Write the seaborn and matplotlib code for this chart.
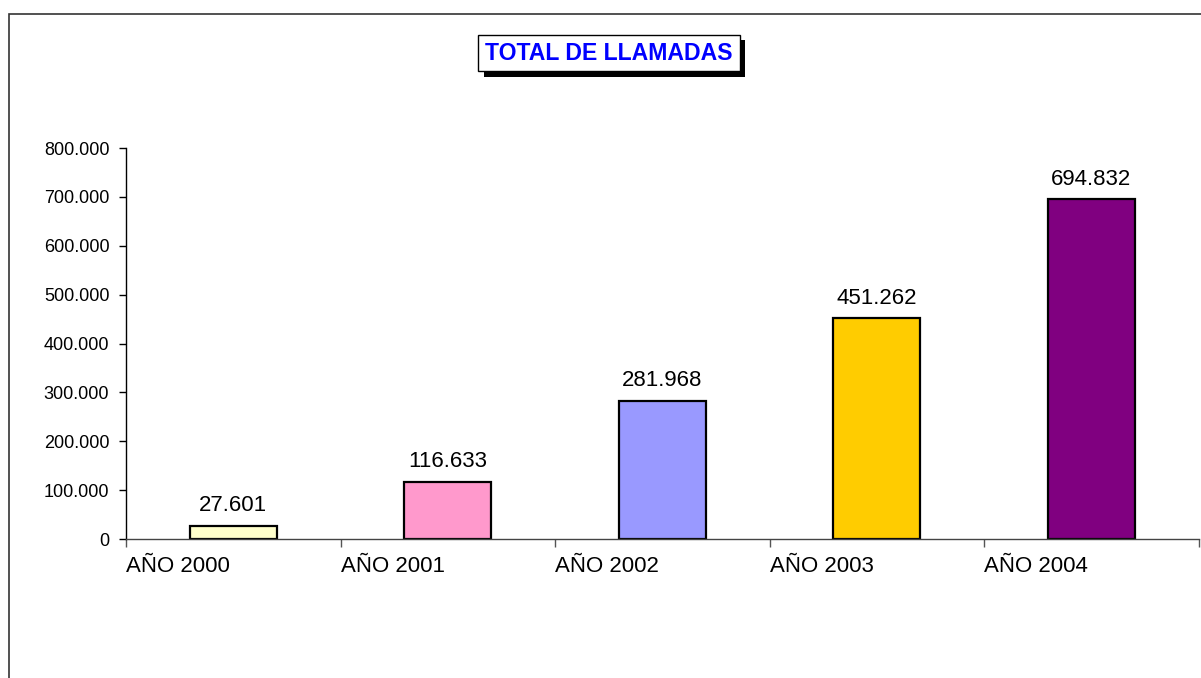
import numpy as np
import pandas as pd
import matplotlib
matplotlib.use("Agg")
import matplotlib.pyplot as plt
import matplotlib.patheffects as pe
from matplotlib.patches import Rectangle
import seaborn as sns

# data
years = ["AÑO 2000", "AÑO 2001", "AÑO 2002", "AÑO 2003", "AÑO 2004"]
calls = [27601, 116633, 281968, 451262, 694832]
bar_colors = ["#FFFFCC", "#FF99CC", "#9999FF", "#FFCC00", "#800080"]
y_ticks = [0, 100000, 200000, 300000, 400000, 500000, 600000, 700000, 800000]


def dot_thousands(v):
    return f"{v:,.0f}".replace(",", ".")


sns.set_theme(style="white")
plt.rcParams["font.family"] = ["Liberation Sans", "DejaVu Sans"]

df = pd.DataFrame({"year": years, "calls": calls})

fig = plt.figure(figsize=(12.01, 6.78), dpi=100)
ax = fig.add_axes([0.1049, 0.205, 0.8931, 0.5767])

sns.barplot(data=df, x="year", y="calls", hue="year", palette=bar_colors,
            width=0.405, edgecolor="black", linewidth=1.6, saturation=1,
            legend=False, ax=ax)

for cont in ax.containers:
    ax.bar_label(cont, labels=[dot_thousands(v) for v in cont.datavalues],
                 padding=7, fontsize=16, color="black")

ax.set_xlim(-0.5, len(years) - 0.5)
ax.set_ylim(0, 800000)
ax.set_yticks(y_ticks)
ax.set_yticklabels([dot_thousands(v) for v in y_ticks], fontsize=13, color="black")

# category labels sit at the left boundary of each slot, like the original
edges = np.arange(len(years) + 1) - 0.5
ax.set_xticks(edges)
ax.set_xticklabels(years + [""], fontsize=16, ha="left", color="black")
ax.tick_params(axis="x", bottom=True, direction="out", length=6, width=1,
               color="#555555", pad=6)
ax.tick_params(axis="y", left=True, direction="out", length=5, width=1,
               color="black", pad=7)
ax.set_xlabel("")
ax.set_ylabel("")

for side in ["top", "right"]:
    ax.spines[side].set_visible(False)
ax.spines["left"].set_color("black")
ax.spines["bottom"].set_color("#444444")
ax.spines["left"].set_linewidth(1)
ax.spines["bottom"].set_linewidth(1)

# outer chart border (runs off the right and bottom of the image)
fig.patches.append(Rectangle((0.0075, -0.2), 1.2, 1.1794, transform=fig.transFigure,
                             fill=False, edgecolor="#333333", linewidth=1.2))

title = fig.text(0.507, 0.9218, "TOTAL DE LLAMADAS", ha="center", va="center",
                 fontsize=16.6, fontweight="bold", color="#0000FF",
                 bbox=dict(boxstyle="square,pad=0.3", fc="white", ec="black", lw=1))
title.get_bbox_patch().set_path_effects([
    pe.SimplePatchShadow(offset=(4, -4), shadow_rgbFace="black", alpha=1),
    pe.Normal(),
])

fig.savefig("out.png", dpi=100)
